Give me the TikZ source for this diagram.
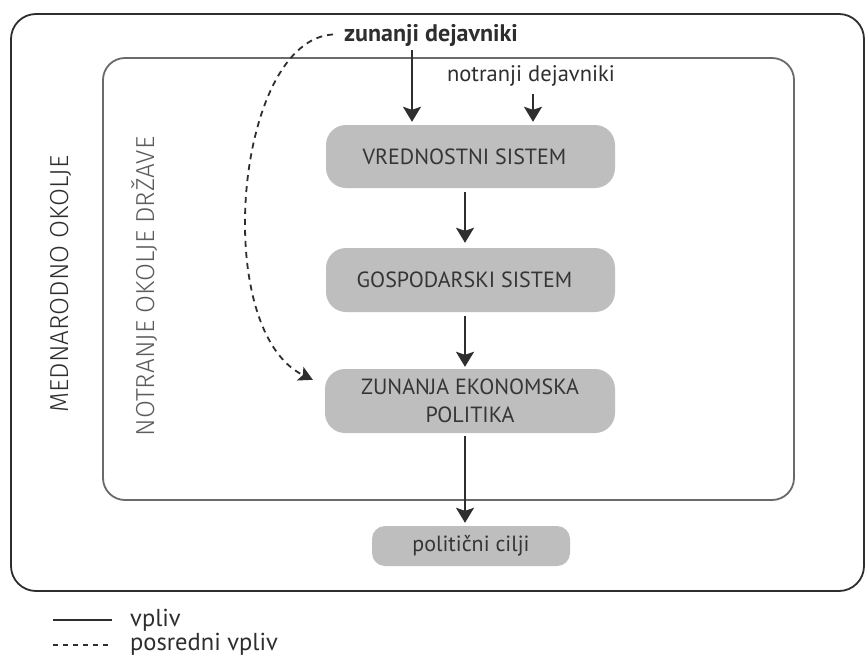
\documentclass[tikz,border=0pt]{standalone}
\usepackage{fontspec}
\setmainfont{PT Sans}
\newfontfamily\thinfont{Fira Sans Light}
\usetikzlibrary{arrows.meta,calc}

\definecolor{ink}{HTML}{2E2E2E}
\definecolor{framegray}{HTML}{6A6A6A}
\definecolor{boxfill}{HTML}{BEBEBE}
\definecolor{boxtext}{HTML}{353535}
\definecolor{sidegray}{HTML}{5C5C5C}

\begin{document}
\begin{tikzpicture}[x=1pt,y=-1pt,
  outerframe/.style={draw=ink,line width=1.8pt,rounded corners=25pt},
  innerframe/.style={draw=framegray,line width=1.8pt,rounded corners=22pt},
  stage/.style={fill=boxfill,rounded corners=20pt,inner sep=0pt,
    text=boxtext,font=\fontsize{22}{28}\selectfont,align=center},
  sidelabel/.style={rotate=90,anchor=base,inner sep=0pt,
    font=\thinfont\fontsize{26}{30}\selectfont},
  toplabel/.style={anchor=base,inner sep=0pt,text=ink},
  flow/.style={draw=ink,line width=1.8pt,
    -{Stealth[length=15pt,width=18pt,inset=3pt]}},
  indirect/.style={draw=ink,line width=1.8pt,dash pattern=on 6pt off 5pt,
    -{Stealth[length=14pt,width=15pt,inset=3pt]}},
  legendtext/.style={anchor=base west,inner sep=0pt,text=ink,
    font=\fontsize{24.5}{28}\selectfont}
]
\useasboundingbox (0,0) rectangle (865,656);
\fill[white] (0,0) rectangle (865,656);

% environments
\draw[outerframe] (11,14) rectangle (864,591);
\draw[innerframe] (103,58) rectangle (794,500);

\node[sidelabel,text=ink] (intl) at (68,284) {MEDNARODNO OKOLJE};
\node[sidelabel,text=sidegray] (home) at (154,286.5) {NOTRANJE OKOLJE DRŽAVE};

% factors
\node[toplabel,font=\bfseries\fontsize{24}{28}\selectfont] (ext) at (431,41.5) {zunanji dejavniki};
\node[toplabel,font=\fontsize{22.5}{26}\selectfont] (int) at (531,81) {notranji dejavniki};

% chain of systems
\node[stage,minimum width=289pt,minimum height=63pt] (val) at (470.5,156.5) {VREDNOSTNI SISTEM\hspace*{12pt}};
\node[stage,minimum width=289pt,minimum height=64pt] (eco) at (470.5,280) {GOSPODARSKI SISTEM\hspace*{12pt}};
\node[stage,minimum width=290pt,minimum height=64pt] (pol) at (470,401) {ZUNANJA EKONOMSKA\\POLITIKA};
\node[stage,rounded corners=13pt,minimum width=198pt,minimum height=40pt] (goal) at (471,546) {politični cilji};

% influences
\draw[flow] ($(ext.south)+(-19,3)$) -- ($(val.north)+(-58.5,-3)$);
\draw[flow] ($(int.south)+(2,8)$) -- ($(val.north)+(62.5,-3)$);
\draw[flow] ($(val.south)+(-5.5,4)$) -- ($(eco.north)+(-5.5,-5)$);
\draw[flow] ($(eco.south)+(-5.5,4)$) -- ($(pol.north)+(-5,-2)$);
\draw[flow] ($(pol.south)+(-5,3)$) -- ($(goal.north)+(-6,-3)$);
\draw[indirect] ($(ext.west)+(-11,-1)$) .. controls (235,40) and (210,330) .. ($(pol.north west)+(-12,11)$);

% legend
\coordinate (solidA) at (53,620);
\coordinate (solidB) at (112,620);
\coordinate (dashA) at (53,645);
\coordinate (dashB) at (111,645);
\draw[ink,line width=1.6pt] (solidA) -- (solidB);
\draw[ink,line width=1.6pt,dash pattern=on 5pt off 5pt] (dashA) -- (dashB);
\node[legendtext] (lsolid) at (130,626) {vpliv};
\node[legendtext] (ldash) at (130,650) {posredni vpliv};
\end{tikzpicture}
\end{document}
